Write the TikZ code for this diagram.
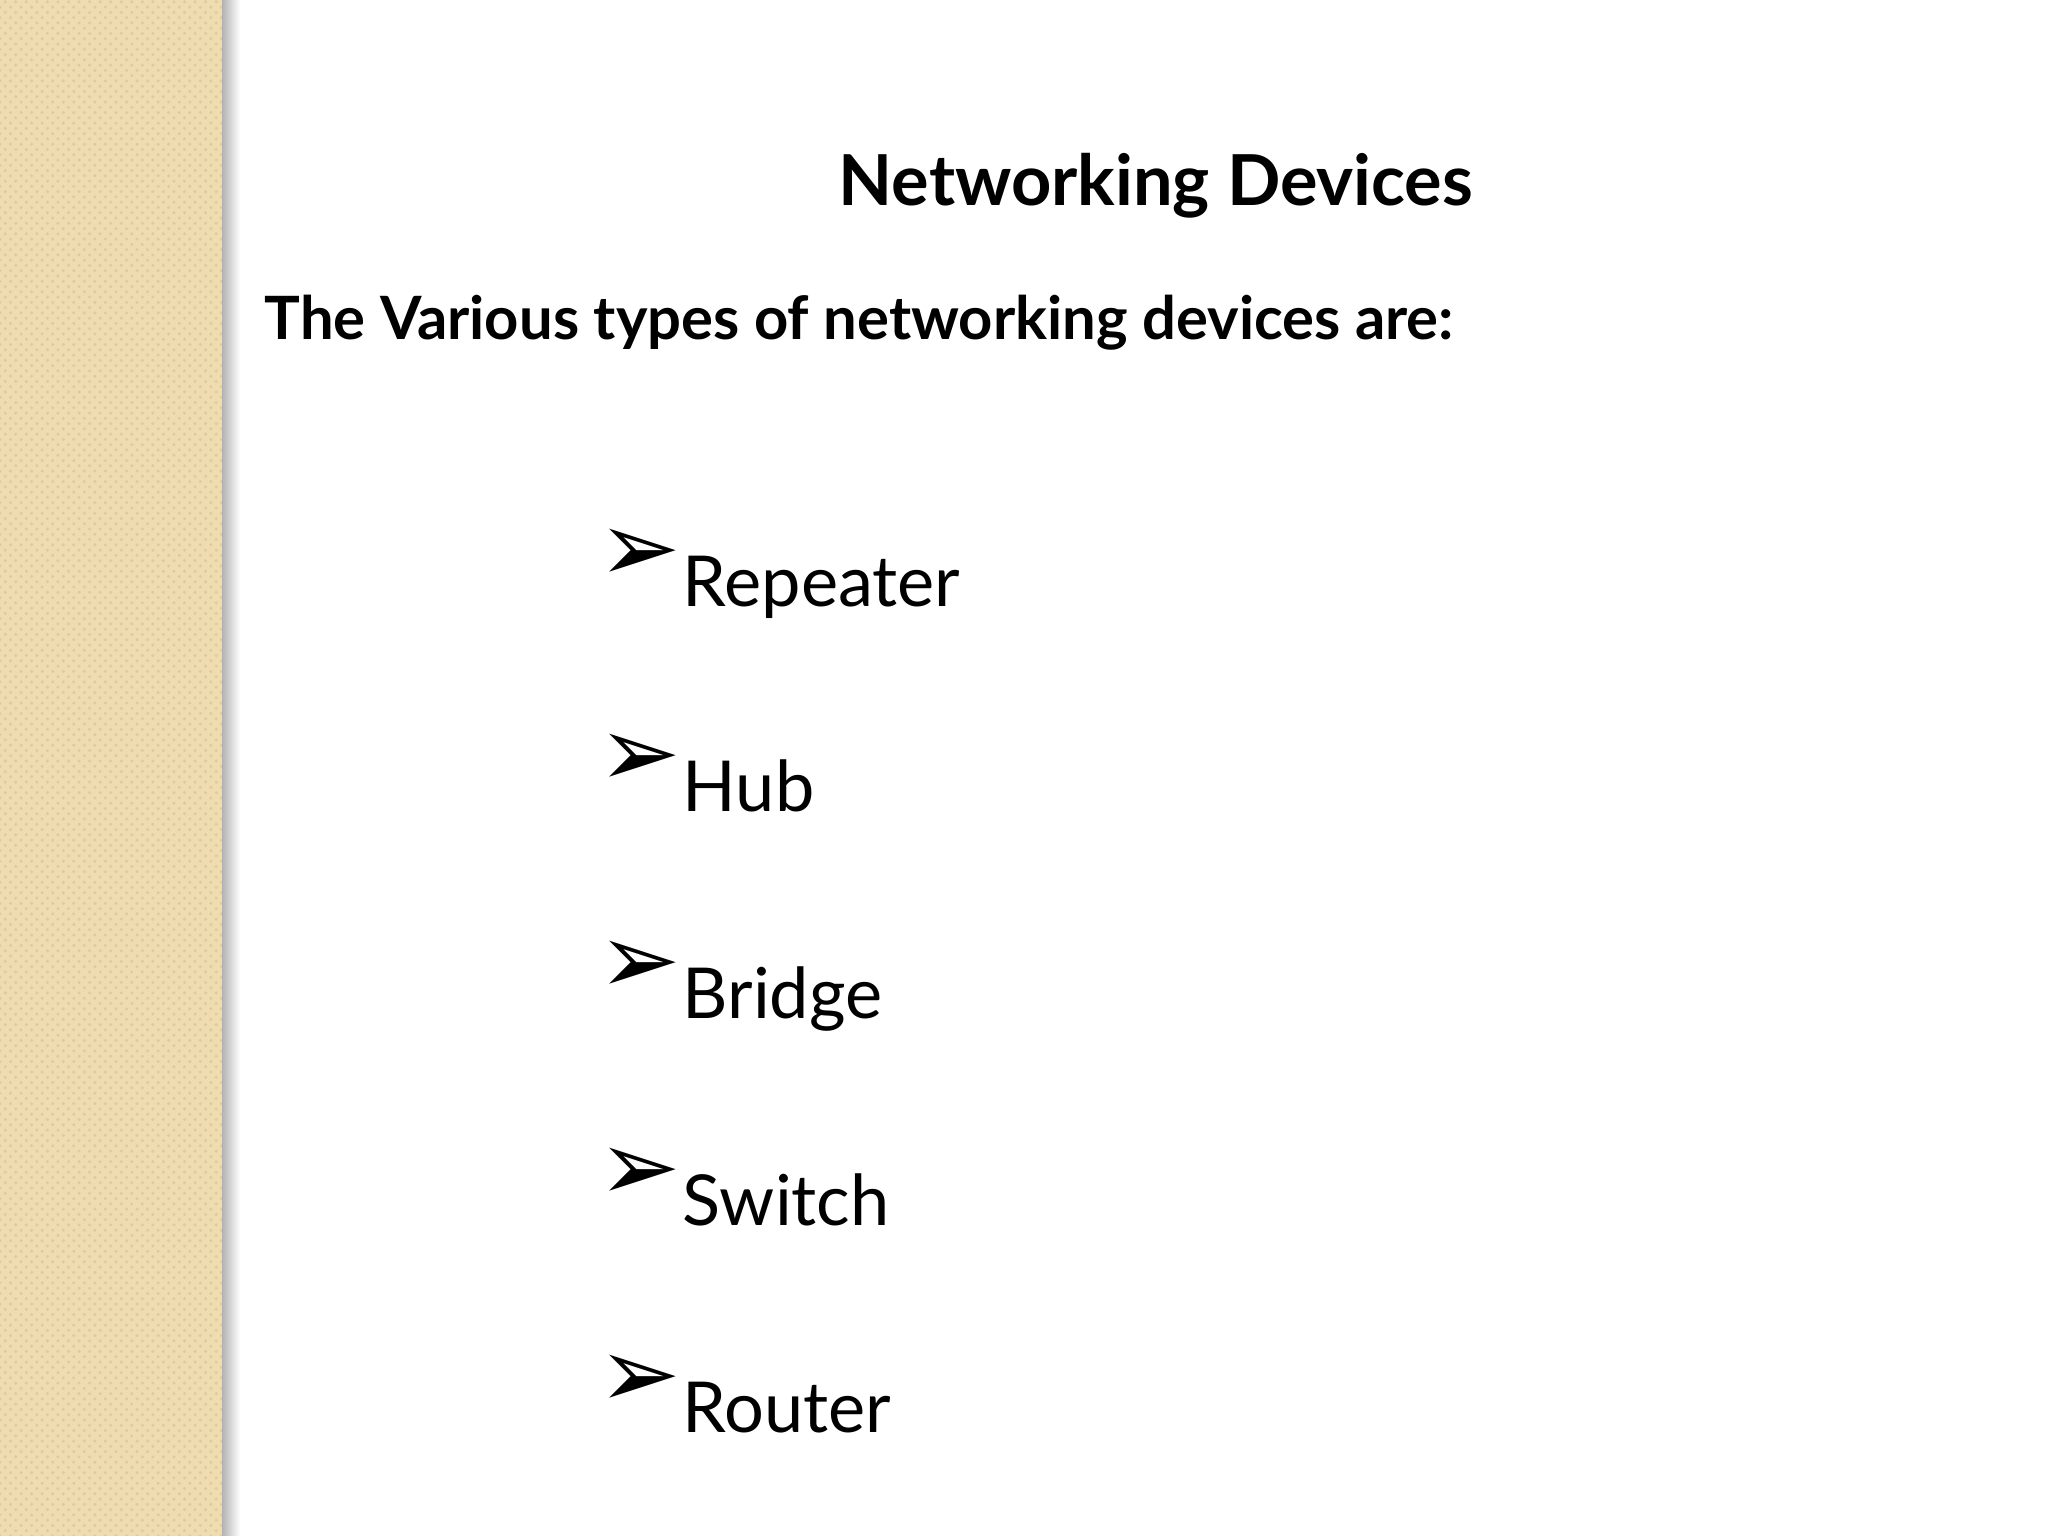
\documentclass[tikz,border=0pt]{standalone}
\usepackage{fontspec}
\setmainfont{Lato}
\newfontfamily\symf{DejaVu Sans}
\usetikzlibrary{patterns}
\definecolor{strip}{HTML}{EFDDB2}
\definecolor{dots}{HTML}{E2CB95}
\tikzset{item/.style={anchor=base west,font=\fontsize{20}{24}\selectfont,inner sep=0pt},
bul/.style={anchor=base east,font=\symf\fontsize{28}{32}\selectfont,inner sep=0pt}}
\begin{document}
\begin{tikzpicture}
\useasboundingbox (0,0) rectangle (20.48,15.36);
\fill[white] (0,0) rectangle (20.48,15.36);
\fill[strip] (0,0) rectangle (2.27,15.36);
\fill[pattern=crosshatch dots,pattern color=dots] (0,0) rectangle (2.27,15.36);
\shade[left color=gray!60,right color=white] (2.22,0) rectangle (2.40,15.36);
\node[font=\bfseries\fontsize{20}{24}\selectfont] (title) at (11.56,13.5) {Networking Devices};
\node[anchor=west,font=\bfseries\fontsize{17}{20}\selectfont,inner sep=0pt] (sub) at (2.64,12.13) {The Various types of networking devices are:};
\foreach \n/\t/\y in {a/Repeater/9.29,b/Hub/7.24,c/Bridge/5.17,d/Switch/3.10,e/Router/1.03}{
  \node[item] (\n) at (6.82,\y) {\t};
  \node[bul] (b\n) at ([yshift=0.25cm]\n.base west) {➢};
}
\end{tikzpicture}
\end{document}
